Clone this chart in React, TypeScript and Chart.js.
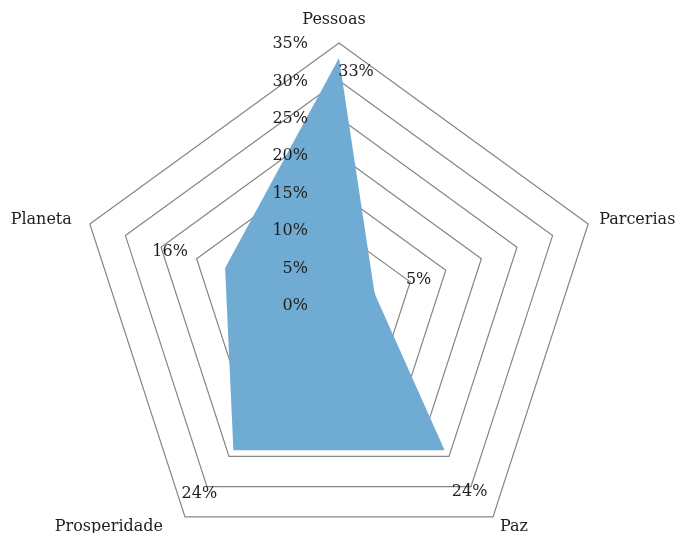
import { useEffect, useRef } from "react";
import { Chart, registerables } from "chart.js";

Chart.register(...registerables);

const categories = ["Pessoas", "Parcerias", "Paz", "Prosperidade", "Planeta"];
const values = [33, 5, 24, 24, 16];
const tickValues = [0, 5, 10, 15, 20, 25, 30, 35];
const tickLabels = ["0%", "5%", "10%", "15%", "20%", "25%", "30%", "35%"];
const valueLabels = ["33%", "5%", "24%", "24%", "16%"];

const FONT = "16px 'DejaVu Serif'";
const TEXT = "#1e1e1e";

// label placement (style)
const dataLabelOffsets: [number, number][] = [
  [17, 14],
  [44, -14],
  [25, 41],
  [-34, 43],
  [-55, -16],
];
const pointLabelOffsets: [number, number, CanvasTextAlign][] = [
  [-5, -23, "center"],
  [11, -4, "left"],
  [7, 10, "left"],
  [-22, 10, "right"],
  [-18, -4, "right"],
];

const labelsPlugin = {
  id: "customLabels",
  afterDatasetsDraw(chart: any) {
    const scale = chart.scales.r;
    const ctx = chart.ctx;
    ctx.save();
    ctx.font = FONT;
    ctx.fillStyle = TEXT;
    ctx.textBaseline = "middle";
    // tick labels
    ctx.textAlign = "right";
    tickValues.forEach((v, i) => {
      const d = scale.getDistanceFromCenterForValue(v);
      ctx.fillText(tickLabels[i], scale.xCenter - 31, scale.yCenter - d + 1);
    });
    // point labels
    categories.forEach((c, i) => {
      const p = scale.getPointPositionForValue(i, scale.max);
      const [dx, dy, align] = pointLabelOffsets[i];
      ctx.textAlign = align;
      ctx.fillText(c, p.x + dx, p.y + dy);
    });
    // data labels
    ctx.textAlign = "center";
    values.forEach((v, i) => {
      const p = scale.getPointPositionForValue(i, v);
      const [dx, dy] = dataLabelOffsets[i];
      ctx.fillText(valueLabels[i], p.x + dx, p.y + dy);
    });
    ctx.restore();
  },
};

export default function App() {
  const ref = useRef<HTMLCanvasElement>(null);
  useEffect(() => {
    document.body.style.margin = "0";
    const chart = new Chart(ref.current!, {
      type: "radar",
      data: {
        labels: categories,
        datasets: [
          {
            data: values,
            backgroundColor: "#70abd3",
            borderWidth: 0,
            pointRadius: 0,
            fill: true,
          },
        ],
      },
      options: {
        animation: false,
        responsive: true,
        maintainAspectRatio: false,
        plugins: { legend: { display: false }, tooltip: { enabled: false } },
        scales: {
          r: {
            min: 0,
            max: 35,
            ticks: { stepSize: 5, display: false },
            angleLines: { display: false },
            pointLabels: { display: false },
            grid: { color: "#858585", lineWidth: 1.2 },
            afterFit: (s: any) => {
              s.xCenter = 339;
              s.yCenter = 305;
              s.drawingArea = 262;
            },
          } as any,
        },
      },
      plugins: [labelsPlugin],
    });
    return () => chart.destroy();
  }, []);
  return (
    <div style={{ position: "absolute", left: 0, top: 0, width: 675, height: 533 }}>
      <canvas ref={ref} />
    </div>
  );
}
